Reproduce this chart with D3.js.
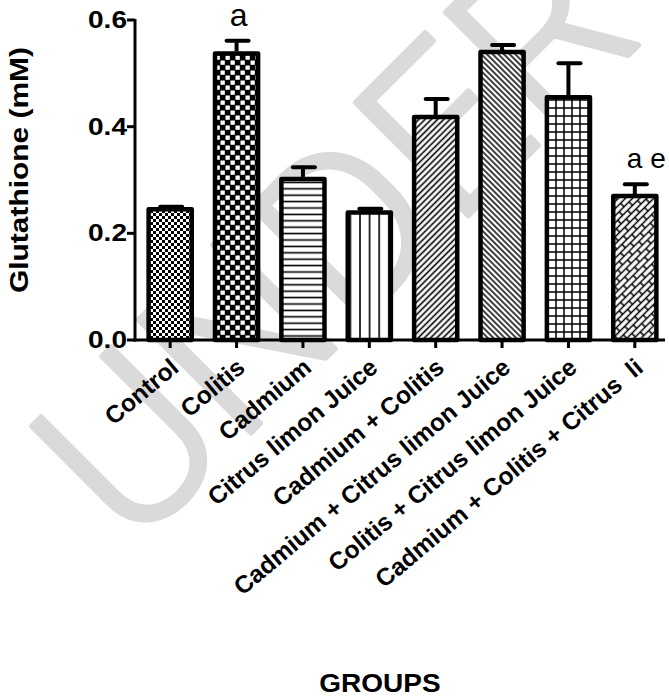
<!DOCTYPE html>
<html>
<head>
<meta charset="utf-8">
<script src="https://cdn.jsdelivr.net/npm/d3@7"></script>
<style>
  html, body { margin: 0; padding: 0; background: #fff; }
  svg { display: block; }
  text { font-family: "Liberation Sans", Arial, sans-serif; }
</style>
</head>
<body>
<svg id="chart" width="669" height="698"></svg>
<script>
// ---- data ----
const categories = [
  "Control",
  "Colitis",
  "Cadmium",
  "Citrus limon Juice",
  "Cadmium + Colitis",
  "Cadmium + Citrus limon Juice",
  "Colitis + Citrus limon Juice",
  "Cadmium + Colitis + Citrus  li"
];
const means = [0.245, 0.537, 0.302, 0.239, 0.418, 0.540, 0.455, 0.270];
const errors = [0.005, 0.024, 0.022, 0.007, 0.034, 0.013, 0.064, 0.022];
const annotations = ["", "a", "", "", "", "", "", "a e"];
const yTicks = [0.0, 0.2, 0.4, 0.6];
const yTickLabels = ["0.0", "0.2", "0.4", "0.6"];
const patternIds = ["pCheckSmall", "pCheckLarge", "pHoriz", "pVert", "pDiagUp", "pDiagDown", "pGrid", "pBrick"];
const yTitle = "Glutathione (mM)";
const xTitle = "GROUPS";
const watermark = "UNDER PEER REVIEW";

// ---- setup ----
const svg = d3.select("#chart");
const defs = svg.append("defs");

function pat(id, w, h, transform) {
  const p = defs.append("pattern").attr("id", id)
    .attr("patternUnits", "userSpaceOnUse").attr("width", w).attr("height", h);
  if (transform) p.attr("patternTransform", transform);
  return p;
}
// small checker
let p = pat("pCheckSmall", 6, 6);
p.append("rect").attr("width", 6).attr("height", 6).attr("fill", "#fff");
p.append("rect").attr("width", 3).attr("height", 3).attr("fill", "#000");
p.append("rect").attr("x", 3).attr("y", 3).attr("width", 3).attr("height", 3).attr("fill", "#000");
// large checker (black dominant)
p = pat("pCheckLarge", 10, 10);
p.append("rect").attr("width", 10).attr("height", 10).attr("fill", "#000");
p.append("rect").attr("x", 0.5).attr("y", 0.5).attr("width", 4.3).attr("height", 4.3).attr("fill", "#fff");
p.append("rect").attr("x", 5.5).attr("y", 5.5).attr("width", 4.3).attr("height", 4.3).attr("fill", "#fff");
// horizontal lines
p = pat("pHoriz", 8, 6.4);
p.append("rect").attr("width", 8).attr("height", 6.4).attr("fill", "#fff");
p.append("line").attr("x1", 0).attr("x2", 8).attr("y1", 3.2).attr("y2", 3.2).attr("stroke", "#000").attr("stroke-width", 1.6);
// vertical lines
p = pat("pVert", 9.6, 8);
p.append("rect").attr("width", 9.6).attr("height", 8).attr("fill", "#fff");
p.append("line").attr("y1", 0).attr("y2", 8).attr("x1", 4.8).attr("x2", 4.8).attr("stroke", "#000").attr("stroke-width", 1.6);
// diagonal "/"
p = pat("pDiagUp", 8, 4.4, "rotate(-45)");
p.append("rect").attr("width", 8).attr("height", 4.4).attr("fill", "#fff");
p.append("line").attr("x1", 0).attr("x2", 8).attr("y1", 2.2).attr("y2", 2.2).attr("stroke", "#000").attr("stroke-width", 1.6);
// diagonal "\"
p = pat("pDiagDown", 8, 4.0, "rotate(45)");
p.append("rect").attr("width", 8).attr("height", 4.0).attr("fill", "#fff");
p.append("line").attr("x1", 0).attr("x2", 8).attr("y1", 2.0).attr("y2", 2.0).attr("stroke", "#000").attr("stroke-width", 1.5);
// grid
p = pat("pGrid", 8, 8);
p.append("rect").attr("width", 8).attr("height", 8).attr("fill", "#fff");
p.append("path").attr("d", "M4,0V8M0,4H8").attr("stroke", "#000").attr("stroke-width", 1.5);
// brick (rotated)
p = pat("pBrick", 14, 10, "rotate(-45)");
p.append("rect").attr("width", 14).attr("height", 10).attr("fill", "#fff");
p.append("path").attr("d", "M0,2.5H14M0,7.5H14M1,2.5V7.5M8,7.5V10M8,0V2.5")
  .attr("stroke", "#000").attr("stroke-width", 1.5).attr("fill", "none");

// watermark
svg.append("text")
  .attr("transform", "translate(132,552) rotate(-45)")
  .style("font-family", "Roboto, 'DejaVu Sans', sans-serif")
  .attr("font-weight", 300)
  .attr("font-size", 225)
  .attr("fill", "#dadada")
  .attr("stroke", "#dadada")
  .attr("stroke-width", 5)
  .attr("stroke-linejoin", "round")
  .text(watermark);

// scales
const x = d3.scaleBand().domain(categories).range([137, 668]).paddingInner(0.29).paddingOuter(0.145);
const y = d3.scaleLinear().domain([0, 0.6]).range([340, 20]);

const g = svg.append("g");

// bars
const bw = x.bandwidth();
g.selectAll("rect.bar").data(categories).join("rect")
  .attr("class", "bar")
  .attr("x", d => x(d) + 2)
  .attr("width", bw - 4)
  .attr("y", (d, i) => y(means[i]))
  .attr("height", (d, i) => y(0) - y(means[i]))
  .attr("fill", (d, i) => `url(#${patternIds[i]})`)
  .attr("stroke", "#000")
  .attr("stroke-width", 4.5)
  .attr("stroke-linejoin", "round");

// error bars
g.selectAll("line.err").data(categories).join("line")
  .attr("class", "err")
  .attr("x1", d => x(d) + bw / 2).attr("x2", d => x(d) + bw / 2)
  .attr("y1", (d, i) => y(means[i]) - 2)
  .attr("y2", (d, i) => y(means[i] + errors[i]))
  .attr("stroke", "#000").attr("stroke-width", 4);
g.selectAll("line.cap").data(categories).join("line")
  .attr("class", "cap")
  .attr("x1", d => x(d) + bw / 2 - 10).attr("x2", d => x(d) + bw / 2 + 12)
  .attr("y1", (d, i) => y(means[i] + errors[i]))
  .attr("y2", (d, i) => y(means[i] + errors[i]))
  .attr("stroke", "#000").attr("stroke-width", 4).attr("stroke-linecap", "round");

// annotations
g.selectAll("text.ann").data(categories).join("text")
  .attr("class", "ann")
  .attr("x", (d, i) => i === 1 ? x(d) + bw / 2 + 2 : x(d) + bw / 2 - 8)
  .attr("y", (d, i) => i === 1 ? 26 : 168)
  .attr("text-anchor", (d, i) => i === 1 ? "middle" : "start")
  .attr("font-size", (d, i) => i === 1 ? 32 : 28)
  .style("white-space", "pre")
  .text((d, i) => annotations[i]);

// y axis
g.append("line").attr("x1", 135).attr("x2", 135).attr("y1", y(0.6) - 1).attr("y2", y(0) + 1.5)
  .attr("stroke", "#000").attr("stroke-width", 3);
g.selectAll("line.ytick").data(yTicks).join("line")
  .attr("class", "ytick")
  .attr("x1", 127).attr("x2", 135).attr("y1", d => y(d)).attr("y2", d => y(d))
  .attr("stroke", "#000").attr("stroke-width", 3);
g.selectAll("text.ylab").data(yTicks).join("text")
  .attr("class", "ylab")
  .attr("transform", d => `translate(127,${y(d) + 8}) scale(1.22,1)`)
  .attr("text-anchor", "end")
  .attr("font-weight", "bold")
  .attr("font-size", 23)
  .text((d, i) => yTickLabels[i]);

// x axis
g.append("line").attr("x1", 133.5).attr("x2", 665).attr("y1", y(0)).attr("y2", y(0))
  .attr("stroke", "#000").attr("stroke-width", 3);
g.selectAll("line.xtick").data(categories).join("line")
  .attr("class", "xtick")
  .attr("x1", d => x(d) + bw / 2).attr("x2", d => x(d) + bw / 2)
  .attr("y1", y(0)).attr("y2", y(0) + 8)
  .attr("stroke", "#000").attr("stroke-width", 3);
g.selectAll("text.xlab").data(categories).join("text")
  .attr("class", "xlab")
  .attr("transform", d => `translate(${x(d) + bw / 2 + 10},370) rotate(-40)`)
  .attr("text-anchor", "end")
  .attr("font-weight", "bold")
  .attr("font-size", 24.5)
  .style("white-space", "pre")
  .text(d => d);

// axis titles
g.append("text")
  .attr("transform", "translate(28,170) rotate(-90)")
  .attr("text-anchor", "middle")
  .attr("font-weight", "bold")
  .attr("font-size", 26)
  .attr("textLength", 246)
  .attr("lengthAdjust", "spacingAndGlyphs")
  .text(yTitle);
g.append("text")
  .attr("transform", "translate(380,692) scale(1.12,1)")
  .attr("text-anchor", "middle")
  .attr("font-weight", "bold")
  .attr("font-size", 25)
  .text(xTitle);
</script>
</body>
</html>
